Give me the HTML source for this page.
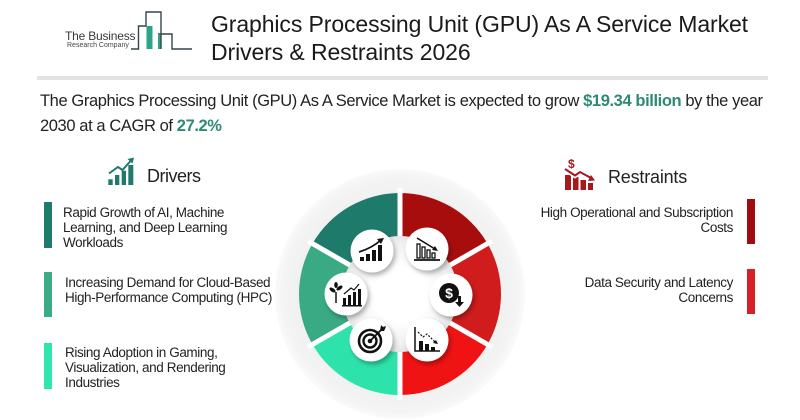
<!DOCTYPE html>
<html>
<head>
<meta charset="utf-8">
<style>
  html,body{margin:0;padding:0;background:#fff;}
  body{width:800px;height:420px;position:relative;overflow:hidden;font-family:"Liberation Sans",Arial,sans-serif;color:#1e1e1e;}
  .abs{position:absolute;white-space:nowrap;}
  .title{left:211px;top:10px;font-size:23px;line-height:28px;letter-spacing:-0.1px;color:#1a1a1a;}
  .sep{left:37px;top:76px;width:731px;height:4px;background:#e3e3e3;}
  .sub{left:40px;top:88.5px;font-size:16.5px;line-height:25px;letter-spacing:-0.4px;color:#222;}
  .sub b{color:#2e8a74;}
  .head{font-size:18px;line-height:20px;color:#222;}
  .item{font-size:13.5px;line-height:15px;letter-spacing:-0.4px;color:#222;}
  .r{text-align:right;}
  .bar{position:absolute;width:8px;}
</style>
</head>
<body>

<!-- Logo -->
<div class="abs" style="left:65px;top:30px;font-size:12px;line-height:12px;letter-spacing:-0.2px;color:#3a3a3a;">The Business</div>
<div class="abs" style="left:67px;top:41.5px;font-size:7px;line-height:8px;color:#444;">Research Company</div>
<svg class="abs" style="left:0;top:0" width="200" height="60">
  <rect x="146.5" y="26" width="6" height="23" fill="#2aa58a"/>
  <rect x="158" y="35" width="3.5" height="14" fill="#2aa58a"/>
  <polyline points="131,49 138.5,49 138.5,26 146,26 146,12 161,12 161,49" fill="none" stroke="#34474d" stroke-width="1.4"/>
  <polyline points="158,34 172,34 172,49 192,49" fill="none" stroke="#34474d" stroke-width="1.4"/>
</svg>

<!-- Title -->
<div class="abs title">Graphics Processing Unit (GPU) As A Service Market<br>Drivers &amp; Restraints 2026</div>
<div class="abs sep"></div>

<!-- Subtitle -->
<div class="abs sub">The Graphics Processing Unit (GPU) As A Service Market is expected to grow <b>$19.34 billion</b> by the year<br>2030 at a CAGR of <b>27.2%</b></div>

<!-- Drivers heading -->
<svg class="abs" style="left:100px;top:150px" width="45" height="45">
  <g fill="#1f7a6c">
    <rect x="8.3" y="29.3" width="4.4" height="5.7"/>
    <rect x="15" y="25" width="4.3" height="10"/>
    <rect x="21.7" y="20.7" width="4.3" height="14.3"/>
    <rect x="28.3" y="15" width="5" height="20"/>
  </g>
  <polyline points="9,23.5 18,17 22.5,20 31,10.5" fill="none" stroke="#1f7a6c" stroke-width="2"/>
  <polygon points="34,7.5 27.5,9 32.5,13.5" fill="#1f7a6c"/>
</svg>
<div class="abs head" style="left:147px;top:165.5px;letter-spacing:-0.5px;">Drivers</div>

<!-- Restraints heading -->
<svg class="abs" style="left:560px;top:155px" width="40" height="40">
  <text x="8" y="13" font-family="Liberation Sans, sans-serif" font-weight="bold" font-size="12" fill="#a8191c">$</text>
  <g fill="#a8191c">
    <rect x="5" y="20" width="6" height="15"/>
    <rect x="13" y="22" width="5.5" height="13"/>
    <rect x="20.5" y="25" width="5.5" height="10"/>
    <rect x="28" y="28" width="5" height="7"/>
  </g>
  <polyline points="5,15 15,21.5 20,18 31,24" fill="none" stroke="#fff" stroke-width="3.5"/>
  <polyline points="5,14 15,20.5 20,17 31,23" fill="none" stroke="#a8191c" stroke-width="2"/>
  <polygon points="35,25.5 28,26 31,20" fill="#a8191c"/>
</svg>
<div class="abs head" style="left:608px;top:167.3px;letter-spacing:-0.2px;">Restraints</div>

<!-- Left bars and items -->
<div class="bar" style="left:44px;top:202px;height:46px;background:#1f7a6c;"></div>
<div class="bar" style="left:44px;top:272px;height:45px;background:#3aab86;"></div>
<div class="bar" style="left:44px;top:343px;height:46px;background:#2ee5ad;"></div>

<div class="abs item" style="left:63px;top:204.5px;">Rapid Growth of AI, Machine<br>Learning, and Deep Learning<br>Workloads</div>
<div class="abs item" style="left:65px;top:275.1px;">Increasing Demand for Cloud-Based<br>High-Performance Computing (HPC)</div>
<div class="abs item" style="left:65px;top:345.1px;">Rising Adoption in Gaming,<br>Visualization, and Rendering<br>Industries</div>

<!-- Right bars and items -->
<div class="bar" style="left:747px;top:199px;height:45px;background:#a00d10;"></div>
<div class="bar" style="left:747px;top:269px;height:45px;background:#d62027;"></div>

<div class="abs item r" style="right:67px;top:204.5px;">High Operational and Subscription<br>Costs</div>
<div class="abs item r" style="right:67px;top:274.5px;">Data Security and Latency<br>Concerns</div>

<!-- Center wheel -->
<svg class="abs" style="left:0;top:0" width="800" height="420">
  <defs>
    <radialGradient id="halo" cx="400" cy="294" r="126" gradientUnits="userSpaceOnUse">
      <stop offset="0.75" stop-color="#efefef"/>
      <stop offset="0.93" stop-color="#f4f4f4"/>
      <stop offset="1" stop-color="#fbfbfb"/>
    </radialGradient>
    <radialGradient id="inner" cx="400" cy="294" r="60" gradientUnits="userSpaceOnUse">
      <stop offset="0.45" stop-color="#ffffff"/>
      <stop offset="0.85" stop-color="#f0f0f0"/>
      <stop offset="1" stop-color="#e2e2e2"/>
    </radialGradient>
    <filter id="sh" x="-50%" y="-50%" width="200%" height="200%">
      <feDropShadow dx="2" dy="3" stdDeviation="2.5" flood-color="#000" flood-opacity="0.3"/>
    </filter>
  </defs>
  <circle cx="400" cy="294" r="125" fill="url(#halo)"/>

  <path d="M400,193 A101,101 0 0 0 312.53,243.5 L352.37,266.5 A55,55 0 0 1 400,239 Z" fill="#1e7a6b"/>
  <path d="M312.53,243.5 A101,101 0 0 0 312.53,344.5 L352.37,321.5 A55,55 0 0 1 352.37,266.5 Z" fill="#3aaa85"/>
  <path d="M312.53,344.5 A101,101 0 0 0 400,395 L400,349 A55,55 0 0 1 352.37,321.5 Z" fill="#2ee3ab"/>
  <path d="M400,193 A101,101 0 0 1 487.47,243.5 L447.63,266.5 A55,55 0 0 0 400,239 Z" fill="#a80d0d"/>
  <path d="M487.47,243.5 A101,101 0 0 1 487.47,344.5 L447.63,321.5 A55,55 0 0 0 447.63,266.5 Z" fill="#d01c1c"/>
  <path d="M487.47,344.5 A101,101 0 0 1 400,395 L400,349 A55,55 0 0 0 447.63,321.5 Z" fill="#f01313"/>

  <g stroke="#ffffff" stroke-width="5">
    <line x1="400" y1="294" x2="400" y2="188"/>
    <line x1="400" y1="294" x2="400" y2="400"/>
    <line x1="400" y1="294" x2="308" y2="241"/>
    <line x1="400" y1="294" x2="308" y2="347"/>
    <line x1="400" y1="294" x2="492" y2="241"/>
    <line x1="400" y1="294" x2="492" y2="347"/>
  </g>
  <circle cx="400" cy="294" r="58" fill="url(#inner)"/>

  <!-- icon circles -->
  <g filter="url(#sh)" fill="#fff">
    <circle cx="372" cy="251" r="21.5"/>
    <circle cx="346" cy="294" r="21.5"/>
    <circle cx="371" cy="340" r="21.5"/>
    <circle cx="427" cy="249" r="21.5"/>
    <circle cx="451" cy="295" r="21.5"/>
    <circle cx="427" cy="340" r="21.5"/>
  </g>

  <!-- icon 1: growth bars -->
  <g transform="translate(372,251)" fill="#111">
    <rect x="-12" y="6" width="4" height="4"/>
    <rect x="-6" y="3" width="4" height="7"/>
    <rect x="0" y="-1" width="4" height="11"/>
    <rect x="6" y="-6" width="4" height="16"/>
    <path d="M-13,1 Q0,-3 9,-11" fill="none" stroke="#111" stroke-width="1.8"/>
    <polygon points="12,-13 5,-12 9,-7"/>
  </g>

  <!-- icon 2: plant + bars -->
  <g transform="translate(346,294)" fill="#111">
    <rect x="-3" y="4" width="3" height="7"/>
    <rect x="2" y="1" width="3" height="10"/>
    <rect x="7" y="-2" width="3" height="13"/>
    <rect x="12" y="-5" width="3" height="16"/>
    <rect x="-4" y="11" width="20" height="1.5"/>
    <line x1="-10" y1="-2" x2="-10" y2="9" stroke="#111" stroke-width="1.5"/>
    <ellipse cx="-13.5" cy="-4" rx="3.5" ry="1.8" transform="rotate(35 -13.5 -4)"/>
    <ellipse cx="-6.5" cy="-6" rx="3.5" ry="1.8" transform="rotate(-35 -6.5 -6)"/>
    <ellipse cx="-10" cy="-9" rx="1.8" ry="3"/>
    <polyline points="-2,0 5,-6 8,-4 13,-10" fill="none" stroke="#111" stroke-width="1.2"/>
  </g>

  <!-- icon 3: target -->
  <g transform="translate(371,340)">
    <circle cx="-1" cy="1" r="11" fill="none" stroke="#111" stroke-width="2.6"/>
    <circle cx="-1" cy="1" r="6.5" fill="none" stroke="#111" stroke-width="2.4"/>
    <circle cx="-1" cy="1" r="2.3" fill="#111"/>
    <line x1="-1" y1="1" x2="11" y2="-11" stroke="#111" stroke-width="1.8"/>
    <polygon points="9,-9 10,-15 12,-13 15,-14 14,-11 13,-9 9,-9" fill="#111"/>
  </g>

  <!-- icon 4: declining bars -->
  <g transform="translate(427,249)" fill="none" stroke="#111">
    <line x1="-13" y1="11" x2="13" y2="11" stroke-width="1.8"/>
    <rect x="-10" y="-5" width="3" height="14" stroke-width="1.3"/>
    <rect x="-5" y="-2" width="3" height="11" stroke-width="1.3"/>
    <rect x="0" y="1" width="3" height="8" stroke-width="1.3"/>
    <rect x="5" y="4" width="3" height="5" stroke-width="1.3"/>
    <line x1="-10" y1="-11" x2="8" y2="0" stroke-width="1.6"/>
    <polygon points="11,2 5,1 8,-3" fill="#111" stroke="none"/>
  </g>

  <!-- icon 5: dollar down -->
  <g transform="translate(451,295)">
    <circle cx="-2" cy="-2" r="10" fill="#111"/>
    <text x="-2" y="3" text-anchor="middle" font-family="Liberation Sans, sans-serif" font-weight="bold" font-size="14" fill="#fff">$</text>
    <rect x="7" y="1" width="3" height="7" fill="#111"/>
    <polygon points="4,7 13,7 8.5,12" fill="#111"/>
  </g>

  <!-- icon 6: chart decline -->
  <g transform="translate(427,340)">
    <polyline points="-12,-13 -12,11 13,11" fill="none" stroke="#111" stroke-width="1.5"/>
    <rect x="-8" y="1" width="4" height="10" fill="#111"/>
    <rect x="-2" y="4" width="4" height="7" fill="#111"/>
    <rect x="4" y="7" width="4" height="4" fill="#111"/>
    <polyline points="-9,-8 -4,-3 0,-6 8,2" fill="none" stroke="#111" stroke-width="1.2" stroke-dasharray="2,1.5"/>
    <polygon points="11,4 6,3 9,0" fill="#111"/>
  </g>
</svg>

</body>
</html>
